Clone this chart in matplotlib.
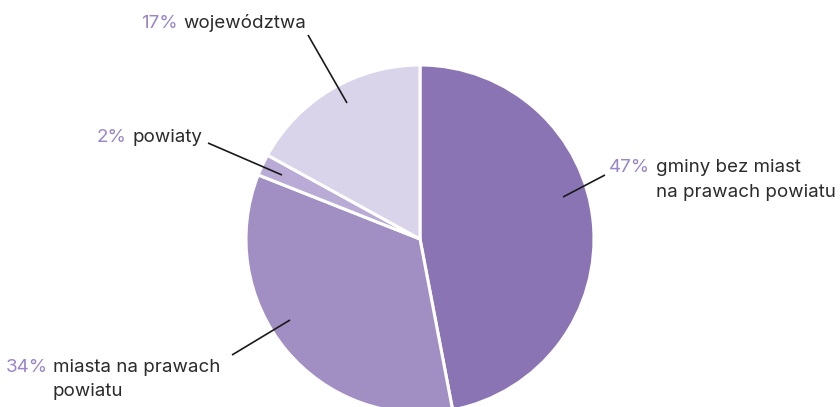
import matplotlib
matplotlib.use("Agg")
import matplotlib.pyplot as plt

labels = ["gminy bez miast\nna prawach powiatu", "miasta na prawach\npowiatu", "powiaty", "województwa"]
values = [47, 34, 2, 17]
colors = ["#8B74B4", "#A18EC3", "#B9ABD6", "#DAD4EA"]

W, H = 840, 407
fig = plt.figure(figsize=(W / 100, H / 100), dpi=100)
ax = fig.add_axes([0, 0, 1, 1])

def Y(y):
    return H - y

cx, cy, r = 420, 239, 174
ax.pie(values, colors=colors, startangle=90, counterclock=False,
       center=(cx, Y(cy)), radius=r,
       wedgeprops=dict(edgecolor="white", linewidth=2.2))
ax.set_xlim(0, W)
ax.set_ylim(0, H)
ax.set_aspect("equal")
ax.axis("off")

font = "Inter"
pct_color = "#9A85C8"
txt_color = "#2b2b2b"
fs = 13.5

# label anchors: (percent right x, label left x, first line center y)
anchors = [
    (650, 656, 166),
    (48, 53, 365),
    (127, 132, 136),
    (178, 183, 21),
]
leaders = [
    ((563, 197), (605, 175)),
    ((290, 320), (232, 355)),
    ((282, 175), (208, 143)),
    ((347, 103), (308, 35)),
]

for lab, v, (px, lx, ly), (p0, p1) in zip(labels, values, anchors, leaders):
    ax.text(px, Y(ly), f"{v}%", ha="right", va="center_baseline", fontsize=fs,
            color=pct_color, family=font)
    lines = lab.split("\n")
    for i, ln in enumerate(lines):
        ax.text(lx, Y(ly + i * 24.5), ln, ha="left", va="center_baseline",
                fontsize=fs, color=txt_color, family=font)
    ax.plot([p0[0], p1[0]], [Y(p0[1]), Y(p1[1])], color="#1a1a1a", lw=1.2,
            solid_capstyle="butt")

fig.savefig("out.png", dpi=100)
